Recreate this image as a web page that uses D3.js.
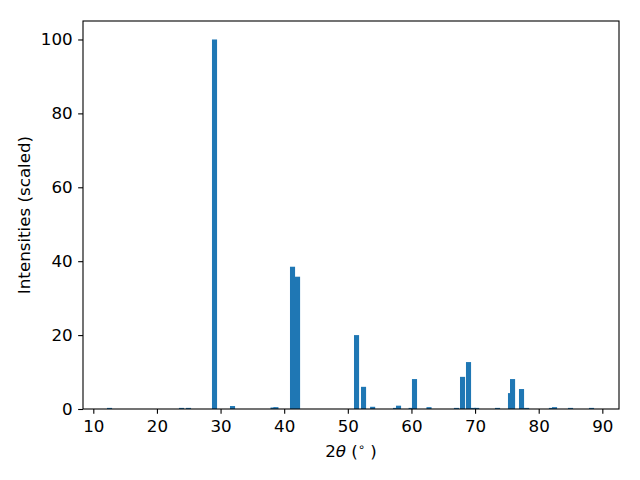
<!DOCTYPE html>
<html>
<head>
<meta charset="utf-8">
<script src="https://cdn.jsdelivr.net/npm/d3@7"></script>
<style>
  html, body { margin: 0; padding: 0; background: #fff; }
  svg { display: block; }
  text { font-family: "DejaVu Sans", sans-serif; }
</style>
</head>
<body>
<svg id="chart" width="640" height="480"></svg>
<script>
// Peak positions (2θ, degrees) and scaled intensities
const positions = [12.55, 23.86, 24.96, 29.05, 31.88, 38.25, 38.7, 41.31, 42.1,
  51.37, 52.47, 53.9, 57.5, 57.97, 59.95, 60.48, 62.76, 67.08, 68.03, 68.97,
  69.75, 70.25, 73.53, 75.57, 75.89, 77.3, 78.1, 82.0, 82.49, 85.0, 88.3];
const intensities = [0.3, 0.3, 0.3, 100, 0.8, 0.4, 0.5, 38.5, 35.8,
  20.0, 6.0, 0.6, 0.3, 0.9, 0.3, 8.1, 0.5, 0.3, 8.7, 12.7,
  0.3, 0.3, 0.3, 4.3, 8.1, 5.4, 0.3, 0.3, 0.5, 0.3, 0.3];
const xTicks = [10, 20, 30, 40, 50, 60, 70, 80, 90];
const yTicks = [0, 20, 40, 60, 80, 100];
const barWidth = 0.8;

const W = 640, H = 480;
const margin = { left: 83, right: 21, top: 21, bottom: 71 };
const svg = d3.select("#chart");

const x = d3.scaleLinear().domain([8.38, 92.62]).range([margin.left, W - margin.right]);
const y = d3.scaleLinear().domain([0, 105]).range([H - margin.bottom, margin.top]);

const data = positions.map((p, i) => ({ p, v: intensities[i] }));

svg.append("g").selectAll("rect").data(data).join("rect")
  .attr("x", d => x(d.p - barWidth / 2))
  .attr("width", d => x(d.p + barWidth / 2) - x(d.p - barWidth / 2))
  .attr("y", d => y(d.v))
  .attr("height", d => y(0) - y(d.v))
  .attr("fill", "#1f77b4");

const fs = "16.7px";
const xAxis = svg.append("g").attr("transform", `translate(0,${H - margin.bottom})`)
  .call(d3.axisBottom(x).tickValues(xTicks).tickSize(4.86).tickPadding(6).tickFormat(d3.format("d")));
const yAxis = svg.append("g").attr("transform", `translate(${margin.left},0)`)
  .call(d3.axisLeft(y).tickValues(yTicks).tickSize(4.86).tickPadding(5.5).tickFormat(d3.format("d")));
[xAxis, yAxis].forEach(g => {
  g.select(".domain").remove();
  g.selectAll(".tick line").attr("stroke", "#000").attr("stroke-width", 1.1);
  g.selectAll(".tick text").attr("fill", "#000").style("font-size", fs).style("font-family", "DejaVu Sans");
});

// spines
svg.append("rect")
  .attr("x", margin.left).attr("y", margin.top)
  .attr("width", W - margin.left - margin.right)
  .attr("height", H - margin.top - margin.bottom)
  .attr("fill", "none").attr("stroke", "#000").attr("stroke-width", 1.1);

// x label
const xl = svg.append("text")
  .attr("x", (margin.left + W - margin.right) / 2)
  .attr("y", 457)
  .attr("text-anchor", "middle")
  .style("font-size", fs).attr("fill", "#000");
xl.append("tspan").text("2");
xl.append("tspan").style("font-style", "italic").text("θ");
xl.append("tspan").text(" (");
xl.append("tspan").attr("dy", -6).style("font-size", "11.5px").text("∘");
xl.append("tspan").attr("dy", 6).text(" )");

// y label
svg.append("text")
  .attr("transform", `translate(30,${(margin.top + H - margin.bottom) / 2}) rotate(-90)`)
  .attr("text-anchor", "middle")
  .style("font-size", fs).attr("fill", "#000")
  .text("Intensities (scaled)");
</script>
</body>
</html>
